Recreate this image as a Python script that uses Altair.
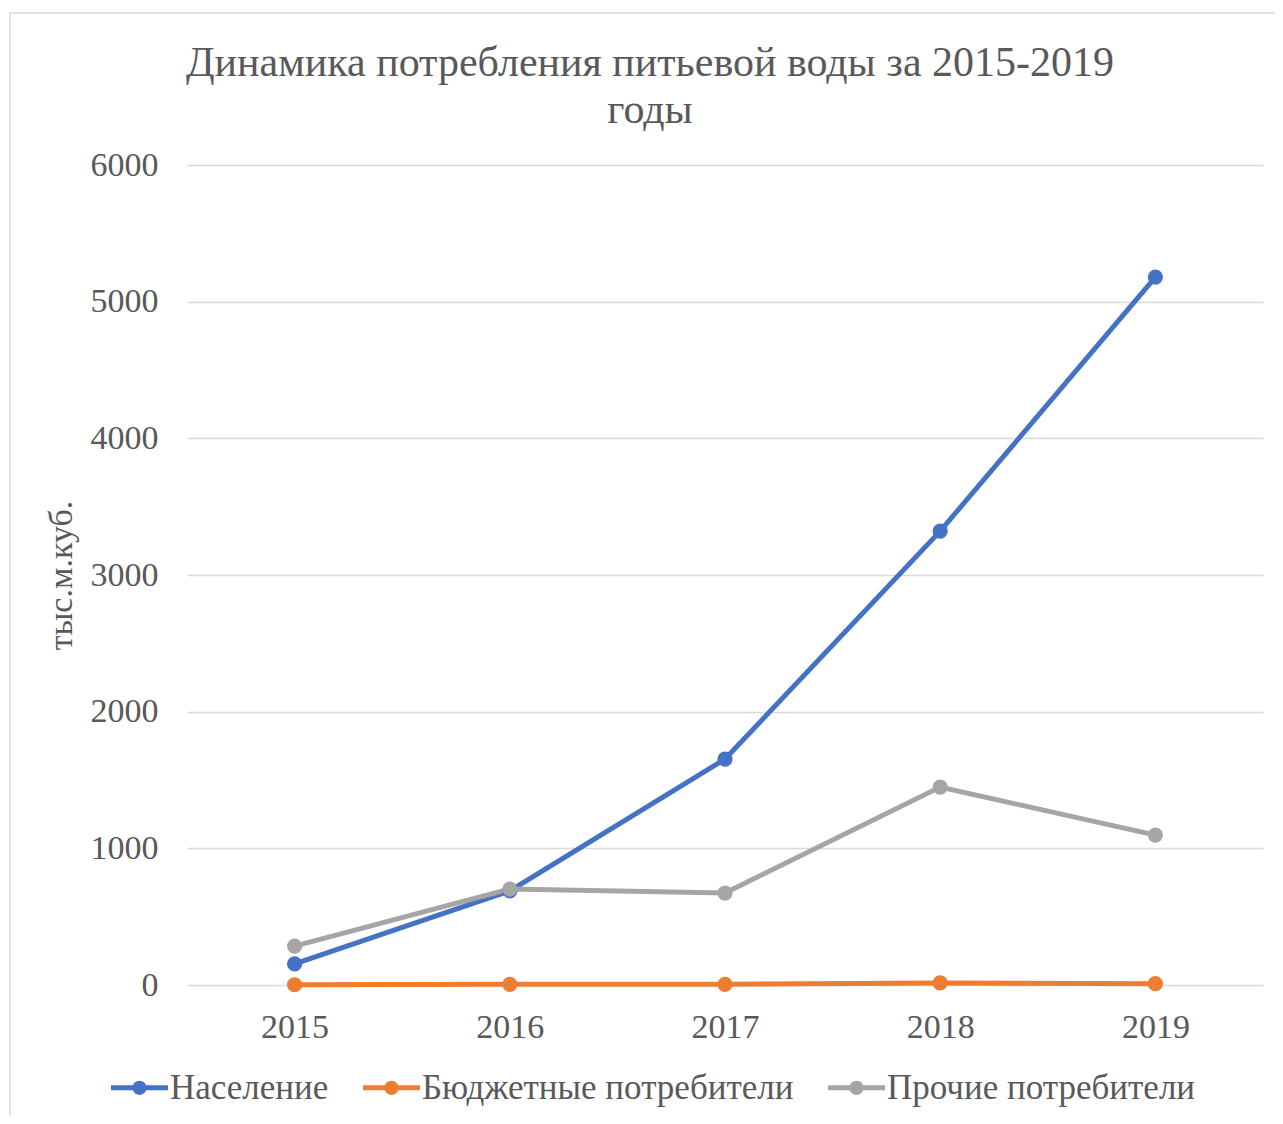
import altair as alt
import pandas as pd

years = ["2015", "2016", "2017", "2018", "2019"]
series_names = ["Население", "Бюджетные потребители", "Прочие потребители"]
naselenie = [154, 688, 1653, 3321, 5180]
budget = [2, 5, 5, 15, 10]
prochie = [285, 702, 673, 1448, 1097]
colors = ["#4472C4", "#ED7D31", "#A5A5A5"]
y_ticks = [0, 1000, 2000, 3000, 4000, 5000, 6000]
title_lines = ["Динамика потребления питьевой воды за 2015-2019", "годы"]

rows = []
for name, vals in zip(series_names, [naselenie, budget, prochie]):
    for yr, v in zip(years, vals):
        rows.append({"year": yr, "value": v, "series": name})
df = pd.DataFrame(rows)

FONT = "Liberation Serif"
TXT = "#595959"

legend_path = ("M-1,-0.09H1V0.09H-1Z "
               "M0.25,0A0.25,0.25 0 1,1 -0.25,0A0.25,0.25 0 1,1 0.25,0Z")

color = alt.Color(
    "series:N",
    scale=alt.Scale(domain=series_names, range=colors),
    sort=series_names,
    legend=alt.Legend(
        title=None,
        orient="none",
        legendX=-76,
        legendY=894,
        direction="horizontal",
        symbolType=legend_path,
        symbolSize=3249,
        symbolStrokeWidth=0,
        symbolOpacity=1,
        labelFont=FONT,
        labelFontSize=35,
        labelColor=TXT,
        labelLimit=600,
        labelOffset=2,
        columnPadding=34,
    ),
)

x = alt.X(
    "year:O",
    sort=years,
    scale=alt.Scale(type="point", padding=0.5),
    axis=alt.Axis(
        title=None, labelAngle=0, ticks=False, domain=False,
        labelFont=FONT, labelFontSize=34, labelColor=TXT, labelPadding=25,
    ),
)
y = alt.Y(
    "value:Q",
    scale=alt.Scale(domain=[0, 6000], nice=False),
    axis=alt.Axis(
        title="тыс.м.куб.", values=y_ticks, format="d", ticks=False, domain=False,
        labelFont=FONT, labelFontSize=34, labelColor=TXT, labelPadding=29,
        gridColor="#D9D9D9", gridWidth=1.5,
        titleFont=FONT, titleFontSize=34, titleColor=TXT, titleFontWeight="normal",
        titleX=-109, titleY=410, titleAngle=270,
    ),
)

base = alt.Chart(df)
lines = base.mark_line(strokeWidth=5).encode(x=x, y=y, color=color)
points = base.mark_circle(size=230, opacity=1).encode(x=x, y=y, color=color)

one = alt.Data(values=[{"a": 1}])
border = alt.Chart(one).mark_rect(
    fill=None, stroke="#D9D9D9", strokeWidth=1.5
).encode(
    x=alt.value(-177), x2=alt.value(1110),
    y=alt.value(-152), y2=alt.value(1000),
)

title1 = alt.Chart(one).mark_text(
    text=title_lines[0], font=FONT, fontSize=42, color=TXT,
    align="center", baseline="alphabetic",
).encode(x=alt.value(463), y=alt.value(-89))
title2 = alt.Chart(one).mark_text(
    text=title_lines[1], font=FONT, fontSize=42, color=TXT,
    align="center", baseline="alphabetic",
).encode(x=alt.value(463), y=alt.value(-42))

chart = alt.layer(border, lines, points, title1, title2).properties(
    width=1076,
    height=820,
    autosize=alt.AutoSizeParams(type="none"),
    padding={"left": 179, "top": 157, "right": 12, "bottom": 131},
).configure(background="white").configure_view(stroke=None)

chart.save("out.html", embed_options={"renderer": "svg", "actions": False})
